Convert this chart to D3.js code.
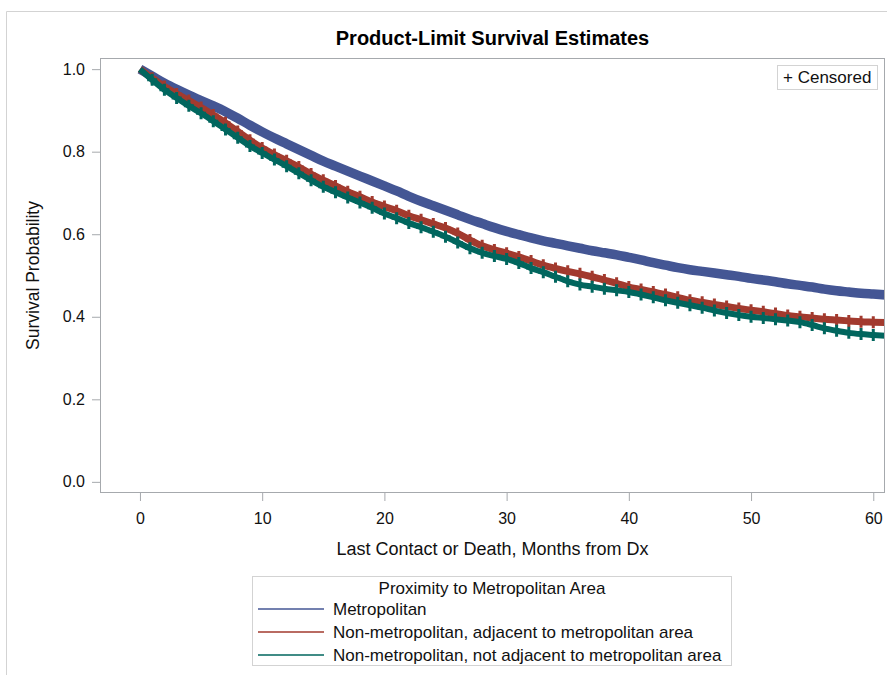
<!DOCTYPE html>
<html>
<head>
<meta charset="utf-8">
<script src="https://cdn.jsdelivr.net/npm/d3@7/dist/d3.min.js"></script>
<style>
body { margin: 0; background: #fff; }
text { font-family: "Liberation Sans", Arial, sans-serif; }
</style>
</head>
<body>
<div id="chart"></div>
<script>
var width = 887
var height = 675

// months from diagnosis
var months = [0, 1, 2, 3, 4, 5, 6, 7, 8, 9, 10, 11, 12, 13, 14, 15, 16, 17, 18, 19, 20,
    21, 22, 23, 24, 25, 26, 27, 28, 29, 30, 31, 32, 33, 34, 35, 36, 37, 38, 39, 40,
    41, 42, 43, 44, 45, 46, 47, 48, 49, 50, 51, 52, 53, 54, 55, 56, 57, 58, 59, 60, 61]

// survival estimates
var metro = [1.000, 0.983, 0.966, 0.951, 0.937, 0.924, 0.911, 0.897, 0.881, 0.864, 0.848,
    0.833, 0.819, 0.805, 0.791, 0.777, 0.765, 0.753, 0.741, 0.729, 0.717,
    0.705, 0.692, 0.680, 0.669, 0.658, 0.647, 0.636, 0.626, 0.616, 0.607,
    0.599, 0.591, 0.584, 0.578, 0.572, 0.566, 0.560, 0.555, 0.550, 0.544,
    0.538, 0.531, 0.525, 0.519, 0.514, 0.510, 0.506, 0.502, 0.498, 0.493,
    0.489, 0.485, 0.480, 0.476, 0.472, 0.467, 0.463, 0.460, 0.457, 0.455, 0.453]

var adjacent = [1.000, 0.978, 0.958, 0.940, 0.924, 0.907, 0.889, 0.870, 0.849, 0.828, 0.809,
    0.793, 0.778, 0.763, 0.746, 0.731, 0.717, 0.703, 0.691, 0.678, 0.667,
    0.657, 0.645, 0.635, 0.625, 0.615, 0.602, 0.586, 0.572, 0.562, 0.554,
    0.545, 0.535, 0.525, 0.517, 0.510, 0.504, 0.497, 0.489, 0.481, 0.472,
    0.466, 0.460, 0.454, 0.447, 0.440, 0.435, 0.430, 0.425, 0.420, 0.416,
    0.412, 0.408, 0.403, 0.400, 0.397, 0.394, 0.392, 0.390, 0.388, 0.387, 0.386]

var notAdjacent = [1.000, 0.974, 0.950, 0.930, 0.911, 0.893, 0.874, 0.854, 0.834, 0.814, 0.797,
    0.781, 0.765, 0.748, 0.731, 0.715, 0.702, 0.689, 0.677, 0.664, 0.650,
    0.639, 0.627, 0.617, 0.606, 0.594, 0.580, 0.566, 0.555, 0.547, 0.540,
    0.530, 0.518, 0.508, 0.497, 0.486, 0.478, 0.473, 0.468, 0.464, 0.460,
    0.454, 0.447, 0.440, 0.434, 0.428, 0.422, 0.415, 0.409, 0.404, 0.400,
    0.397, 0.394, 0.391, 0.387, 0.380, 0.372, 0.366, 0.361, 0.358, 0.356, 0.354]

var groups = ["Metropolitan",
    "Non-metropolitan, adjacent to metropolitan area",
    "Non-metropolitan, not adjacent to metropolitan area"]
var colors = ["#445694", "#A23A2E", "#01665E"]

var xTicks = [0, 10, 20, 30, 40, 50, 60]
var yTicks = [0.0, 0.2, 0.4, 0.6, 0.8, 1.0]

var svg = d3.select("#chart")
    .append("svg")
    .attr("width", width)
    .attr("height", height)

// outer frame
svg.append("path")
    .attr("d", "M6.5,675 V11.5 H887")
    .attr("fill", "none")
    .attr("stroke", "#d3d3d3")

var plot = {left: 100, right: 885, top: 58, bottom: 493}

var x = d3.scaleLinear()
    .domain([-3.27, 60.96])
    .range([plot.left, plot.right])

var y = d3.scaleLinear()
    .domain([-0.027, 1.027])
    .range([plot.bottom, plot.top])

svg.append("clipPath")
    .attr("id", "clip")
    .append("rect")
    .attr("x", plot.left)
    .attr("y", plot.top)
    .attr("width", plot.right - plot.left)
    .attr("height", plot.bottom - plot.top)

var series = [metro, adjacent, notAdjacent].map(function(vals, i) {
    return {name: groups[i], color: colors[i],
        values: months.map(function(m, j) { return {t: m, s: vals[j]} })}
})

var line = d3.line()
    .x(d => x(d.t))
    .y(d => y(d.s))
    .curve(d3.curveMonotoneX)

var curves = svg.append("g").attr("clip-path", "url(#clip)")

var widths = [9.5, 7, 6]

series.forEach(function(s, i) {
    curves.append("path")
        .datum(s.values)
        .attr("d", line)
        .attr("fill", "none")
        .attr("stroke", s.color)
        .attr("stroke-width", widths[i])
        .attr("stroke-linejoin", "round")

    // censored marks
    if (i > 0) {
        curves.selectAll(".cens" + i)
            .data(s.values.slice(1))
            .enter()
            .append("path")
            .attr("class", "cens" + i)
            .attr("d", d => "M" + (x(d.t) - 5) + "," + y(d.s) + "h10M" + x(d.t) + "," + (y(d.s) - 6) + "v12")
            .attr("stroke", s.color)
            .attr("stroke-width", 3)
            .attr("fill", "none")
    }
})

// plot frame
svg.append("rect")
    .attr("x", plot.left + 0.5)
    .attr("y", plot.top + 0.5)
    .attr("width", plot.right - plot.left - 1)
    .attr("height", plot.bottom - plot.top - 1)
    .attr("fill", "none")
    .attr("stroke", "#a6a9ad")

var yAxis = svg.append("g")
    .attr("transform", "translate(" + plot.left + ",0)")
    .call(d3.axisLeft(y).tickValues(yTicks).tickFormat(d3.format(".1f")).tickSize(8).tickPadding(7))

var xAxis = svg.append("g")
    .attr("transform", "translate(0," + plot.bottom + ")")
    .call(d3.axisBottom(x).tickValues(xTicks).tickSize(8).tickPadding(12))

svg.selectAll(".domain").remove()
svg.selectAll(".tick line").attr("stroke", "#a6a9ad")
svg.selectAll(".tick text")
    .attr("fill", "#111")
    .style("font-size", "16px")
    .style("font-family", "'Liberation Sans', Arial, sans-serif")

// title and axis labels
svg.append("text")
    .attr("x", (plot.left + plot.right) / 2)
    .attr("y", 45)
    .attr("text-anchor", "middle")
    .style("font-size", "20px")
    .style("font-weight", "bold")
    .text("Product-Limit Survival Estimates")

svg.append("text")
    .attr("x", (plot.left + plot.right) / 2)
    .attr("y", 555)
    .attr("text-anchor", "middle")
    .style("font-size", "18px")
    .attr("fill", "#111")
    .text("Last Contact or Death, Months from Dx")

svg.append("text")
    .attr("transform", "translate(39," + (plot.top + plot.bottom) / 2 + ") rotate(-90)")
    .attr("text-anchor", "middle")
    .style("font-size", "17.5px")
    .attr("fill", "#111")
    .text("Survival Probability")

// censored legend
svg.append("rect")
    .attr("x", 777.5)
    .attr("y", 65.5)
    .attr("width", 100)
    .attr("height", 24)
    .attr("fill", "#fff")
    .attr("stroke", "#d3d3d3")

svg.append("text")
    .attr("x", 783)
    .attr("y", 77)
    .attr("dy", "0.35em")
    .style("font-size", "17px")
    .attr("fill", "#111")
    .text("+ Censored")

// group legend
var legend = svg.append("g")

legend.append("rect")
    .attr("x", 252.5)
    .attr("y", 576.5)
    .attr("width", 479)
    .attr("height", 89)
    .attr("fill", "#fff")
    .attr("stroke", "#d3d3d3")

legend.append("text")
    .attr("x", 492)
    .attr("y", 588)
    .attr("dy", "0.35em")
    .attr("text-anchor", "middle")
    .style("font-size", "17px")
    .attr("fill", "#111")
    .text("Proximity to Metropolitan Area")

var rows = legend.selectAll(".row")
    .data(series)
    .enter()
    .append("g")
    .attr("class", "row")
    .attr("transform", (d, i) => "translate(0," + (609 + i * 23) + ")")

rows.append("line")
    .attr("x1", 258)
    .attr("x2", 324)
    .attr("stroke", d => d.color)
    .attr("stroke-width", 1.5)

rows.append("text")
    .attr("x", 333)
    .attr("dy", "0.35em")
    .style("font-size", "17px")
    .attr("fill", "#111")
    .text(d => d.name)
</script>
</body>
</html>
